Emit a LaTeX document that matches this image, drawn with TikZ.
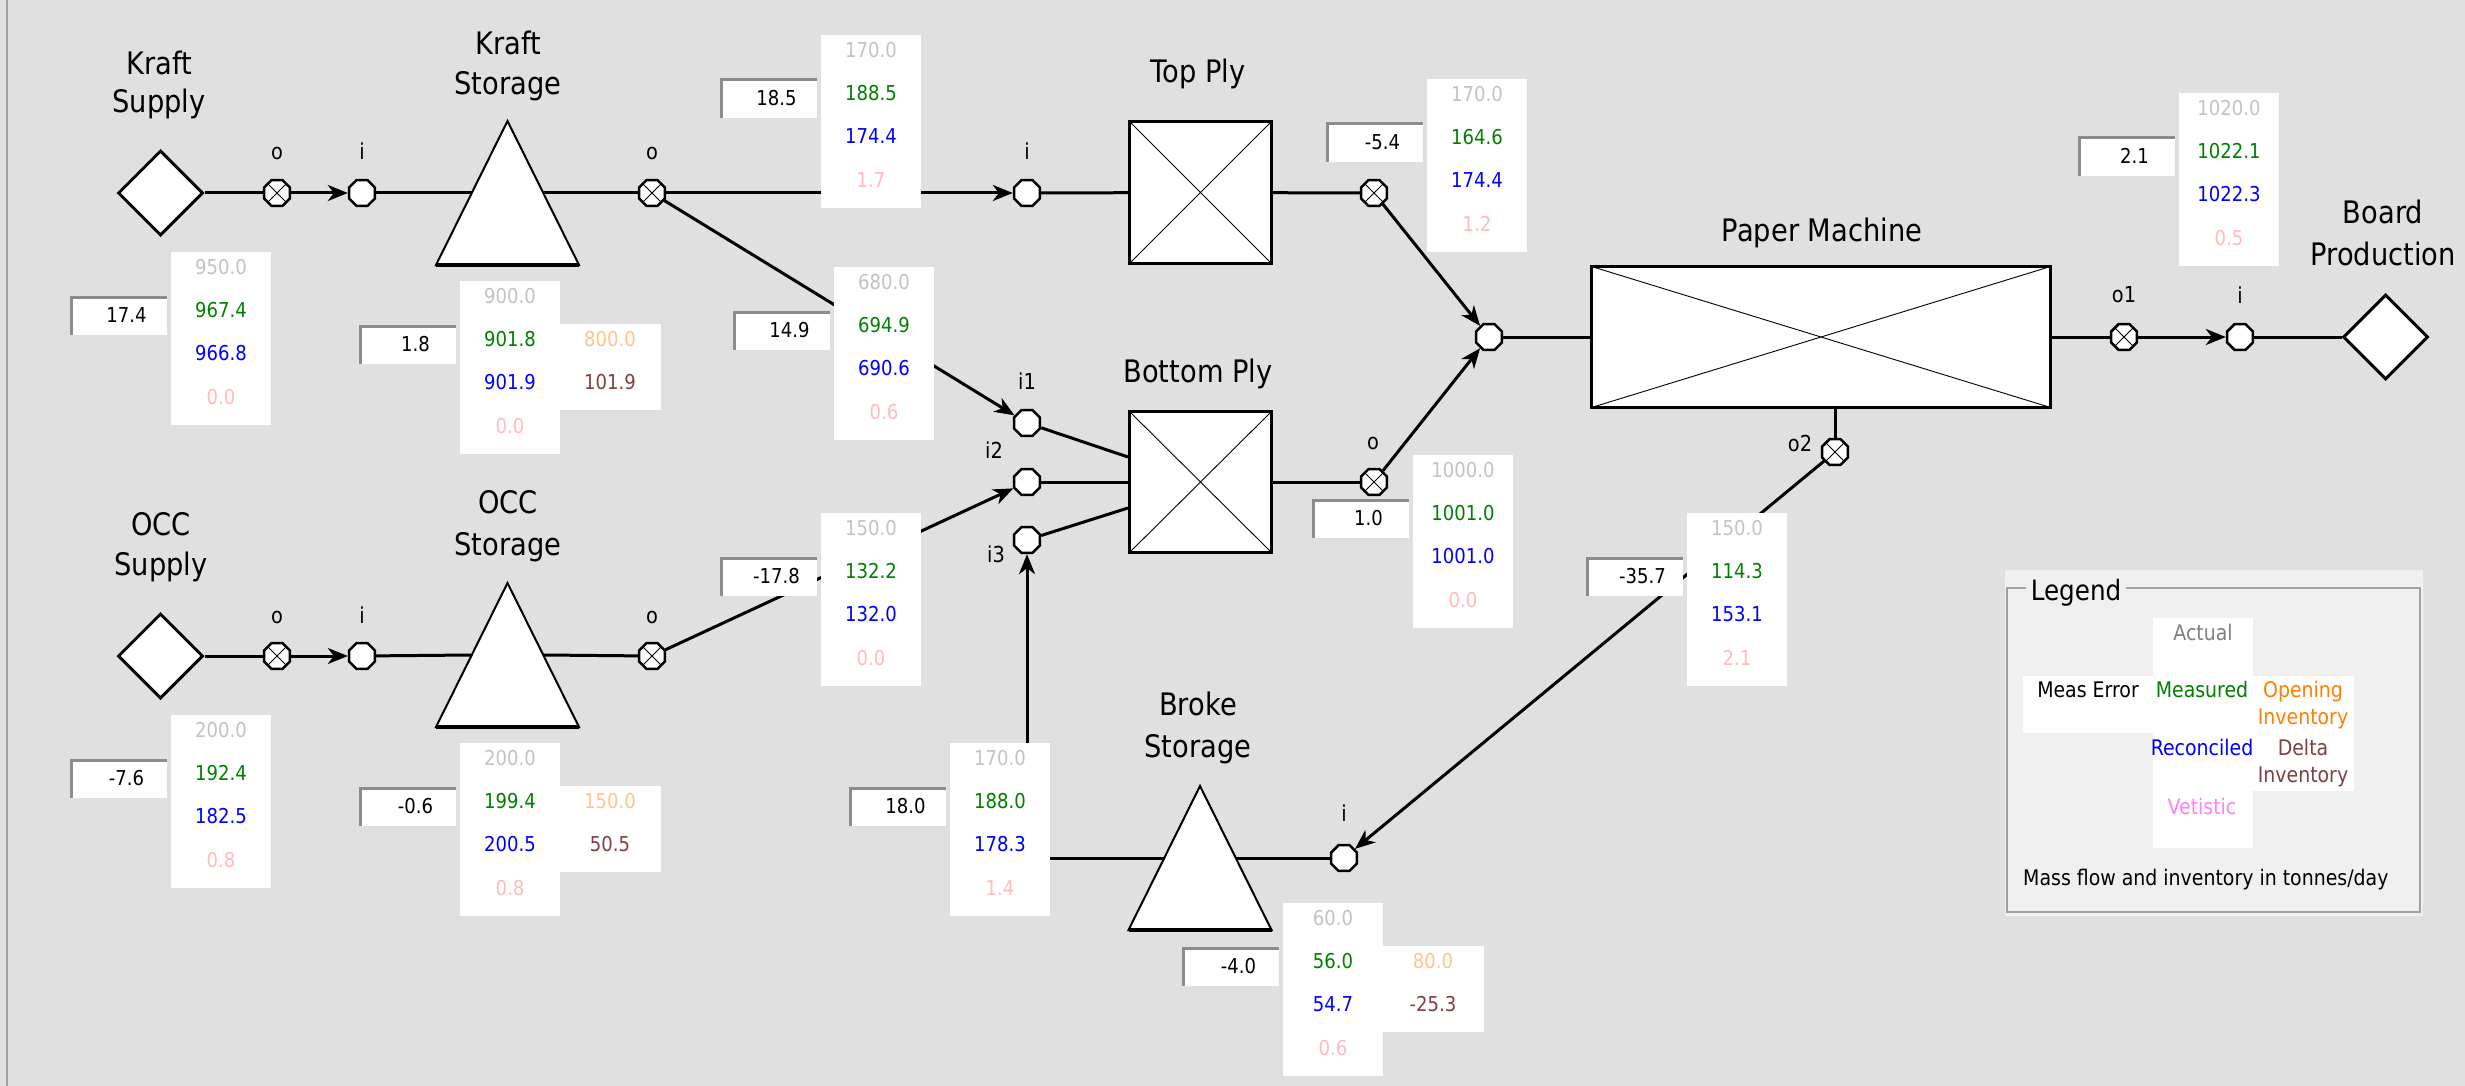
\documentclass[tikz,border=0pt]{standalone}
\usepackage{fontspec}
\setmainfont{DejaVu Sans}[FakeStretch=0.88]
\usetikzlibrary{shapes.geometric, arrows.meta, calc}
\definecolor{bgc}{RGB}{224,224,224}
\definecolor{actc}{RGB}{195,195,195}
\definecolor{measc}{RGB}{0,128,0}
\definecolor{recc}{RGB}{0,0,255}
\definecolor{vetc}{RGB}{255,188,188}
\definecolor{openc}{RGB}{255,196,140}
\definecolor{deltac}{RGB}{128,64,64}
\definecolor{legact}{RGB}{128,128,128}
\definecolor{legopen}{RGB}{255,128,0}
\definecolor{legvet}{RGB}{255,128,255}
\definecolor{sunk}{RGB}{140,140,140}
\definecolor{panel}{RGB}{240,240,240}
\definecolor{grpline}{RGB}{160,160,160}
\newcommand\fsz[1]{\fontsize{#1}{#1}\selectfont}
\tikzset{
  conn/.style={line width=3pt},
  arr/.style={line width=3pt, -{Stealth[length=20pt,width=16pt,inset=6pt]}},
  xport/.style={regular polygon, regular polygon sides=8, minimum size=28pt, inner sep=0pt, draw, fill=white, line width=2.5pt,
    path picture={\draw[line width=0.9pt] (path picture bounding box.north west) -- (path picture bounding box.south east)
      (path picture bounding box.north east) -- (path picture bounding box.south west);}},
  port/.style={regular polygon, regular polygon sides=8, minimum size=28pt, inner sep=0pt, draw, fill=white, line width=2.5pt},
  src/.style={diamond, draw, fill=white, line width=3pt, minimum width=85pt, minimum height=85pt, inner sep=0pt},
  proc/.style={rectangle, draw, fill=white, line width=3pt, inner sep=0pt,
    path picture={\draw[line width=0.9pt] (path picture bounding box.north west) -- (path picture bounding box.south east)
      (path picture bounding box.north east) -- (path picture bounding box.south west);}},
  tank/.style={draw, fill=white, line width=2pt, line join=miter},
  ttl/.style={font=\fsz{31}, anchor=base, inner sep=0pt},
  lbl/.style={font=\fsz{22}, anchor=base, inner sep=0pt},
  num/.style={font=\fsz{20.5}, inner sep=0pt},
  dbox/.style={fill=white, inner sep=0pt, minimum width=100pt, minimum height=173pt, anchor=north west},
  ibox/.style={fill=white, inner sep=0pt, minimum width=101pt, minimum height=86pt, anchor=north west},
  mbox/.style={fill=white, inner sep=0pt, minimum width=97pt, minimum height=39pt, anchor=north east},
  leg/.style={font=\fsz{21.5}, anchor=base, inner sep=0pt},
}
\newcommand\databox[8]{%
  \node[dbox] (#1) at (#2,#3) {};
  \node[num, text=actc] (#1-a) at ({#2+50},{#3+15}) {#4};
  \node[num, text=measc] (#1-m) at ({#2+50},{#3+58}) {#5};
  \node[num, text=recc] (#1-r) at ({#2+50},{#3+101}) {#6};
  \node[num, text=vetc] (#1-v) at ({#2+50},{#3+145}) {#7};
  \node[mbox] (#1-eb) at ({#2-4},{#3+43.5}) {};
  \draw[sunk, line width=3pt] ([xshift=1.5pt]#1-eb.south west) |- ([yshift=-1.5pt]#1-eb.north east);
  \node[num] (#1-e) at ({#2-44.5},{#3+63}) {#8};
}
\newcommand\invbox[5]{%
  \node[ibox] (#1) at ({#2+100},{#3+43}) {};
  \node[num, text=openc] (#1-o) at ({#2+150},{#3+58}) {#4};
  \node[num, text=deltac] (#1-d) at ({#2+150},{#3+101}) {#5};
}
\newcommand\tankshape[3]{%
  \draw[tank] (#2,#3) -- ({#2+71.5},{#3+144}) -- ({#2-71.5},{#3+144}) -- cycle;
  \draw[line width=3.5pt] ({#2-71.5},{#3+144}) -- ({#2+71.5},{#3+144});
  \coordinate (#1-L) at ({#2-35.75},{#3+72});
  \coordinate (#1-R) at ({#2+35.75},{#3+72});
}
\begin{document}
\begin{tikzpicture}[x=1pt, y=-1pt]
\useasboundingbox (0,0) rectangle (2465,1086);
\fill[bgc] (0,0) rectangle (2465,1086);
\draw[grpline, line width=2pt] (7,0) -- (7,1086);

% titles
\node[ttl] (t1a) at (159,75) {Kraft};
\node[ttl] (t1b) at (159,113) {Supply};
\node[ttl] (t2a) at (508,55) {Kraft};
\node[ttl] (t2b) at (508,95) {Storage};
\node[ttl] (t3) at (1198,83) {Top Ply};
\node[ttl] (t4) at (1198,382) {Bottom Ply};
\node[ttl] (t5) at (1822,241) {Paper Machine};
\node[ttl] (t6a) at (2383,223) {Board};
\node[ttl] (t6b) at (2383,265) {Production};
\node[ttl] (t7a) at (161,535) {OCC};
\node[ttl] (t7b) at (161,575) {Supply};
\node[ttl] (t8a) at (508,513) {OCC};
\node[ttl] (t8b) at (508,555) {Storage};
\node[ttl] (t9a) at (1198,715) {Broke};
\node[ttl] (t9b) at (1198,757) {Storage};

% shapes
\node[src] (ks) at (160.5,193) {};
\node[xport] (kso) at (277,193) {};
\node[port] (ksi) at (362,193) {};
\tankshape{kst}{507.5}{121}
\node[xport] (kto) at (652,193) {};
\node[port] (tpi) at (1027,193) {};
\node[proc, minimum width=142pt, minimum height=142pt] (tp) at (1200.5,192.5) {};
\node[xport] (tpo) at (1374,193) {};
\node[port] (mix) at (1489,337) {};
\node[proc, minimum width=459pt, minimum height=141pt] (pm) at (1821,337) {};
\node[xport] (o1) at (2124,337) {};
\node[port] (bi) at (2240,337) {};
\node[src] (bd) at (2385.5,337) {};

\node[src] (os) at (160.5,656) {};
\node[xport] (oso) at (277,656) {};
\node[port] (osi) at (362,656) {};
\tankshape{ost}{507.5}{583}
\node[xport] (oto) at (652,656) {};

\node[port] (i1) at (1027,423) {};
\node[port] (i2) at (1027,482) {};
\node[port] (i3) at (1027,540) {};
\node[proc, minimum width=142pt, minimum height=141pt] (bp) at (1200.5,482) {};
\node[xport] (bpo) at (1374,482) {};
\node[xport] (o2) at (1835,452) {};
\node[port] (bki) at (1344,858) {};
\tankshape{bk}{1200}{786}

% port labels
\node[lbl] (l1) at (277,160) {o};
\node[lbl] (l2) at (362,160) {i};
\node[lbl] (l3) at (652,160) {o};
\node[lbl] (l4) at (1027,160) {i};
\node[lbl] (l5) at (2124,302) {o1};
\node[lbl] (l6) at (2240,303) {i};
\node[lbl] (l7) at (277,623) {o};
\node[lbl] (l8) at (362,623) {i};
\node[lbl] (l9) at (652,623) {o};
\node[lbl] (l10) at (1027,389) {i1};
\node[lbl] (l11) at (994,458) {i2};
\node[lbl] (l12) at (996,562) {i3};
\node[lbl] (l13) at (1373,449) {o};
\node[lbl] (l14) at (1800,451) {o2};
\node[lbl] (l15) at (1344,821) {i};

% connectors
\draw[conn] (ks) -- (kso);
\draw[arr] (kso) -- (ksi);
\draw[conn] (ksi) -- (kst-L);
\draw[conn] (kst-R) -- (kto);
\draw[arr] (kto) -- (tpi);
\draw[arr] (kto) -- (i1);
\draw[conn] (tpi) -- (tp);
\draw[conn] (tp) -- (tpo);
\draw[arr] (tpo) -- (mix);
\draw[conn] (i1) -- ($(bp.west)+(0,-25)$);
\draw[conn] (i2) -- (bp);
\draw[conn] (i3) -- ($(bp.west)+(0,26)$);
\draw[conn] (bp) -- (bpo);
\draw[arr] (bpo) -- (mix);
\draw[conn] (mix) -- (pm);
\draw[conn] (pm) -- (o1);
\draw[arr] (o1) -- (bi);
\draw[conn] (bi) -- (bd);
\draw[conn] (os) -- (oso);
\draw[arr] (oso) -- (osi);
\draw[conn] (osi) -- (ost-L);
\draw[conn] (ost-R) -- (oto);
\draw[arr] (oto) -- (i2);
\draw[conn] (o2) -- (o2 |- pm.south);
\draw[arr] (o2) -- (bki);
\draw[conn] (bki) -- (bk-R);
\draw[arr] (bk-L) -| (i3);

% data boxes
\databox{d1}{171}{252}{950.0}{967.4}{966.8}{0.0}{17.4}
\databox{d2}{460}{281}{900.0}{901.8}{901.9}{0.0}{1.8}
\invbox{d2i}{460}{281}{800.0}{101.9}
\databox{d3}{821}{35}{170.0}{188.5}{174.4}{1.7}{18.5}
\databox{d4}{834}{267}{680.0}{694.9}{690.6}{0.6}{14.9}
\databox{d5}{1427}{79}{170.0}{164.6}{174.4}{1.2}{-5.4}
\databox{d6}{2179}{93}{1020.0}{1022.1}{1022.3}{0.5}{2.1}
\databox{d7}{171}{715}{200.0}{192.4}{182.5}{0.8}{-7.6}
\databox{d8}{460}{743}{200.0}{199.4}{200.5}{0.8}{-0.6}
\invbox{d8i}{460}{743}{150.0}{50.5}
\databox{d9}{821}{513}{150.0}{132.2}{132.0}{0.0}{-17.8}
\databox{d10}{1413}{455}{1000.0}{1001.0}{1001.0}{0.0}{1.0}
\databox{d11}{1687}{513}{150.0}{114.3}{153.1}{2.1}{-35.7}
\databox{d12}{950}{743}{170.0}{188.0}{178.3}{1.4}{18.0}
\databox{d13}{1283}{903}{60.0}{56.0}{54.7}{0.6}{-4.0}
\invbox{d13i}{1283}{903}{80.0}{-25.3}

% legend
\fill[panel] (2005,570) rectangle (2423,916);
\draw[grpline, line width=2pt] (2007,588) rectangle (2420,912);
\node[font=\fsz{28}, anchor=base, fill=panel, inner xsep=5pt, inner ysep=2pt] (legT) at (2076,600) {Legend};
\fill[white] (2153,618) rectangle (2253,848);
\fill[white] (2023,676) rectangle (2354,733);
\fill[white] (2253,733) rectangle (2354,791);
\node[leg, text=legact] (la) at (2203,640) {Actual};
\node[leg] (le) at (2088,697) {Meas Error};
\node[leg, text=measc] (lm) at (2202,697) {Measured};
\node[leg, text=legopen] (lo1) at (2303,697) {Opening};
\node[leg, text=legopen] (lo2) at (2303,724) {Inventory};
\node[leg, text=recc] (lr) at (2202,755) {Reconciled};
\node[leg, text=deltac] (ld1) at (2303,755) {Delta};
\node[leg, text=deltac] (ld2) at (2303,782) {Inventory};
\node[leg, text=legvet] (lv) at (2202,814) {Vetistic};
\node[leg, anchor=base west] (lmf) at (2023,885) {Mass flow and inventory in tonnes/day};
\end{tikzpicture}
\end{document}
